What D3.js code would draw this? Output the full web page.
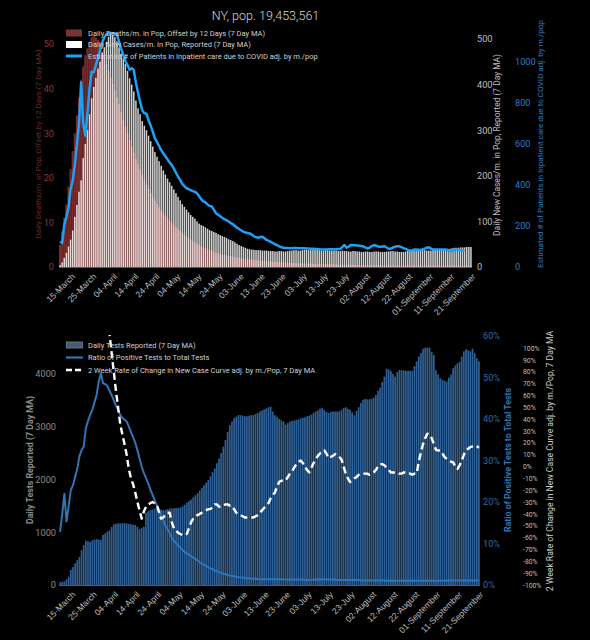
<!DOCTYPE html>
<html><head><meta charset="utf-8">
<script src="https://cdn.jsdelivr.net/npm/d3@7"></script>
<style>
html,body{margin:0;padding:0;background:#000;}
svg{display:block;font-family:Roboto,"Noto Sans",sans-serif;}
</style>
</head><body>
<svg id="chart" width="590" height="640"></svg>
<script>
// ---------------- DATA ----------------
const chartTitle = "NY, pop. 19,453,561";
const firstDay = new Date(2020, 2, 10);
const lastDayExclusive = new Date(2020, 8, 22);

const xTickLabels = ["15-March","25-March","04-April","14-April","24-April","04-May","14-May","24-May","03-June","13-June","23-June","03-July","13-July","23-July","02-August","12-August","22-August","01-September","11-September","21-September"];

// Top chart series
const deathsPerM = [
5,8,11,14,18,22,26,30,34,38,
42,45,47.5,49,50.5,51.5,52,51.5,51,50,
48.5,47,45.5,44,42.5,41,39.5,38,36.5,34.8,
33,31.5,30,28.5,27,25.5,24.2,23,21.8,20.6,
19.5,18.5,17.5,16.6,15.7,14.9,14.1,13.4,12.7,12,
11.4,10.8,10.3,9.8,9.3,8.9,8.5,8.1,7.7,7.3,
6.9,6.5,6.1,5.8,5.5,5.2,4.9,4.6,4.4,4.2,
4,3.8,3.6,3.4,3.2,3,2.9,2.8,2.7,2.6,
2.5,2.4,2.3,2.2,2.1,2,1.9,1.85,1.8,1.75,
1.7,1.65,1.6,1.55,1.5,1.45,1.4,1.35,1.3,1.25,
1.2,1.2,1.15,1.1,1.1,1.05,1,1,0.95,0.9,
0.9,0.85,0.85,0.8,0.8,0.8,0.75,0.75,0.7,0.7,
0.7,0.7,0.65,0.65,0.65,0.6,0.6,0.6,0.6,0.55,
0.55,0.55,0.5,0.5,0.5,0.5,0.5,0.45,0.45,0.45,
0.45,0.45,0.4,0.4,0.4,0.4,0.4,0.4,0.35,0.35,
0.35,0.35,0.35,0.35,0.35,0.3,0.3,0.3,0.3,0.3,
0.3,0.3,0.3,0.3,0.3,0.3,0.3,0.3,0.3,0.3,
0.3,0.3,0.3,0.3,0.3,0.3,0.3,0.3,0.3,0.3,
0.3,0.3,0.3,0.3,0.3,0.3,0.3,0.3,0.3,0.3,
0.3,0.3,0.3,0.3,0.3,0.3];

const casesPerM = [
4,10,20,31,45,60,80,110,136,165,
190,239,270,300,335,370,395,415,435,450,
470,482,494,505,510,509,504,495,482,468,
458,445,430,414,400,385,365,348,335,320,
310,300,288,276,264,252,242,232,222,212,
203,194,186,178,170,162,154,146,138,132,
126,120,114,110,106,100,95,92,90,87,
84,81,79,77,75,72,70,68,66,64,
61,59,57,54,51,48,46,44,42,40,
39,38,38,37,37,37,36,36,36,35,
35,35,34,34,35,35,34,34,35,36,
36,37,37,36,36,37,38,38,37,37,
37,38,38,37,36,36,37,37,36,36,
36,36,35,35,36,35,35,34,34,35,
35,34,34,33,33,34,34,33,33,34,
34,34,33,33,33,34,34,35,35,34,
34,33,33,33,34,35,36,37,37,36,
36,37,37,37,36,36,36,37,38,38,
38,39,39,40,40,40,41,42,42,42,
43,43,43,44,44,44];

const inpatientPerM = [
123,117,205,245,290,380,420,500,600,700,
900,700,640,750,870,953,950,985,1020,1060,
1095,1120,1135,1140,1142,1140,1138,1132,1100,1065,
1035,1005,985,962,970,960,900,850,806,765,
750,748,715,690,660,628,610,590,570,555,
540,525,510,498,480,460,440,425,405,395,
384,380,375,370,367,360,345,330,320,315,
305,298,295,280,262,255,248,240,233,228,
222,215,208,200,192,185,178,172,168,166,
164,158,150,145,143,146,148,140,132,127,
122,117,111,107,101,96,94,93,93,92,
92,93,93,92,91,92,91,90,90,89,
89,88,88,87,86,85,85,86,86,86,
86,87,88,88,98,107,94,100,107,106,
106,105,104,102,100,95,90,95,102,107,
104,100,99,100,101,95,88,90,95,99,
101,101,97,92,88,83,80,82,85,85,
84,83,86,90,94,96,90,86,85,85,
85,85,86,85,82,79,77,83,88,85,
82,81,80,null,null,null];

// Bottom chart series
const testsPerM = [
50,60,70,110,160,285,340,410,470,530,
660,760,840,830,815,850,860,870,860,855,
950,980,1010,1040,1100,1150,1160,1170,1170,1170,
1175,1165,1160,1150,1145,1140,1100,1060,1080,1100,
1370,1400,1420,1430,1450,1460,1450,1430,1420,1420,
1440,1450,1450,1455,1460,1460,1470,1490,1520,1560,
1590,1620,1660,1700,1740,1790,1840,1890,1940,1990,
2060,2140,2210,2310,2400,2500,2620,2750,2900,3030,
3100,3160,3190,3220,3220,3210,3200,3200,3210,3220,
3220,3240,3260,3290,3310,3330,3350,3370,3380,3290,
3220,3190,3150,3120,3100,3040,3070,3100,3110,3120,
3130,3140,3160,3170,3180,3200,3210,3230,3260,3290,
3310,3340,3360,3320,3280,3260,3280,3290,3290,3290,
3290,3320,3360,3370,3340,3320,3270,3220,3300,3370,
3450,3510,3530,3520,3520,3530,3550,3600,3680,3740,
3850,3950,4100,4090,4060,4000,3950,4040,4080,4070,
4070,4060,4060,4060,4060,4150,4240,4330,4400,4480,
4500,4500,4500,4420,4360,4070,3990,3920,3890,3870,
3860,3930,3990,4110,4160,4200,4230,4330,4430,4470,
4450,4430,4480,4400,4300,4240];

const positiveRatioPct = [
12.8,17,22,15.3,19,22.9,24,26,28,31,
32.5,33.3,37.8,39.5,41,42.2,44,45.8,49,51,
48.6,48.4,48,46.8,45.8,44.5,43.2,42.2,41,40.3,
39.8,39.4,38.2,36.9,35.6,34.3,32.5,30.5,28.5,27,
25.8,24.5,23.1,21.8,20.5,19.3,18,16.8,15.6,14.4,
13.4,12.5,11.4,10.6,10.1,9.5,9,8.4,8,7.6,
7.3,6.9,6.6,6.3,5.9,5.5,5.1,4.9,4.6,4.3,
4,3.8,3.5,3.3,3.1,2.9,2.7,2.6,2.4,2.3,
2.2,2.1,2,1.9,1.8,1.8,1.7,1.6,1.6,1.5,
1.5,1.5,1.4,1.4,1.4,1.4,1.4,1.4,1.4,1.4,
1.4,1.4,1.4,1.4,1.3,1.3,1.3,1.3,1.3,1.3,
1.3,1.3,1.3,1.3,1.2,1.2,1.2,1.2,1.3,1.3,
1.3,1.3,1.4,1.4,1.3,1.3,1.3,1.3,1.3,1.2,
1.2,1.2,1.2,1.2,1.2,1.2,1.2,1.2,1.2,1.2,
1.1,1.1,1.1,1.1,1.1,1.1,1.1,1.1,1.1,1.1,
1.1,1.1,1,1,1,1,1,1,1,1,
1,1,1,1,1,1,1,1,1,1,
1,1,1,1,1,1,1,1,1,1,
1.1,1.1,1.1,1.1,1.1,1.1,1.1,1.1,1.1,1.1,
1.1,1.1,1.1,1.1,1.1,1.1];

const rateOfChangePct = [
null,null,null,null,null,null,null,null,null,null,
null,null,null,null,null,null,null,null,null,null,
null,null,
125,112,96,80,64,50,36,27,19,10,
-2,-10,-15,-22,-30,-37,-44,-38,-34,-32,
-31,-30,-31,-32,-38,-44,-43,-41,-39,-39,
-47,-52,-54,-56,-57,-58,-58,-57,-52,-47,
-44,-42,-41,-40,-39,-38,-37,-36,-36,-34,
-32,-32,-34,-34,-33,-32,-32,-33,-33,-36,
-39,-40,-41,-42,-43,-43,-43,-43,-43,-42,
-41,-39,-37,-35,-33,-31,-27,-24,-22,-17,
-13,-12,-12,-12,-9,-6,-4,-1,2,4,
5,3,0,-3,-5,-1,3,6,9,11,
12,13.6,11,7,8,9,10.5,10,8,6,
0,-6,-10,-13,-12,-10,-9,-7,-6,-6,
-6,-6,-7,-6,-5,-3,0,2,2,1,
-1,-3,-5,-5,-5,-5,-6,-6,-5,-5,
-5,-6,-7,-6,-6,4,12,19,24,27.7,
27,24,19,14,13.5,13.6,11,8,6.5,5,
4,3.6,0,-2,1,5,10,13.6,15,16.4,
17,17.8,17,15.8];

const deathTicks = [0,10,20,30,40,50];
const caseTicks = [0,100,200,300,400,500];
const inpatientTicks = [0,200,400,600,800,1000];
const testTicks = [0,1000,2000,3000,4000];
const ratioTicks = [0,10,20,30,40,50,60];
const rateTicks = [-100,-90,-80,-70,-60,-50,-40,-30,-20,-10,0,10,20,30,40,50,60,70,80,90,100];

const topLegend = ["Daily Deaths/m. in Pop, Offset by 12 Days (7 Day MA)","Daily New Cases/m. in Pop, Reported (7 Day MA)","Estimated # of Patients in Inpatient care due to COVID adj. by m./pop"];
const bottomLegend = ["Daily Tests Reported (7 Day MA)","Ratio of Positive Tests to Total Tests","2 Week Rate of Change in New Case Curve adj. by m./Pop, 7 Day MA"];

// ---------------- DRAW ----------------
const dates = d3.timeDay.range(firstDay, lastDayExclusive);
const fmt = d3.timeFormat("%d-%B");
const tickDates = dates.filter(d => xTickLabels.includes(fmt(d)));
const plain = d3.format("d");
const svg = d3.select("#chart");
svg.append("rect").attr("width",590).attr("height",640).attr("fill","#000");

const C = {
  red:"#7a2b2b", redText:"#873838", white:"#ffffff", gray:"#bfbfbf",
  hosp:"#1ea0f5", hospText:"#2c7cc6", bar:"#2e6096", ratio:"#2e75b6", ratioText:"#2f6aa6"
};

function styleAxis(g, color, size, weight){
  g.select(".domain").remove();
  g.selectAll("text").attr("fill", color).style("font-size", size+"px").style("font-family","Roboto,'Noto Sans',sans-serif").style("font-weight", weight||400);
}
function xAxis(g, x, y0){
  const ax = d3.axisBottom(x).tickValues(tickDates).tickFormat(fmt).tickSize(0);
  g.attr("transform", `translate(0,${y0})`).call(ax);
  g.select(".domain").attr("stroke","#595959").attr("d", `M${x.range()[0]},0.5H${x.range()[1]}`);
  g.selectAll("text").attr("fill","#bfbfbf").style("font-size","8.6px")
    .attr("x",0).attr("y",0).attr("dy","0.35em")
    .attr("text-anchor","end")
    .attr("transform","translate(3,8) rotate(-45)");
}
function rotLabel(x, y, text, color, size, weight){
  svg.append("text").attr("transform",`translate(${x},${y}) rotate(-90)`)
    .attr("text-anchor","middle").attr("dy","0.35em")
    .attr("fill",color).style("font-size",size+"px").style("font-weight",weight||400).text(text);
}

// ===== TOP CHART =====
const xT = d3.scaleBand().domain(dates).range([59,472]).padding(0);
const bwT = xT.bandwidth();
const yDeaths = d3.scaleLinear().domain([0,50]).range([267,44]);
const yCases = d3.scaleLinear().domain([0,500]).range([267,39]);
const yInp = d3.scaleLinear().domain([0,1000]).range([267,62]);

svg.append("text").attr("x",265.5).attr("y",20).attr("text-anchor","middle")
  .attr("fill","#d9d9d9").style("font-size","12.5px").style("font-weight",300).text(chartTitle);

svg.append("g").selectAll("rect").data(deathsPerM).join("rect")
  .attr("x",(d,i)=>xT(dates[i])).attr("width",bwT)
  .attr("y",d=>yDeaths(d)).attr("height",d=>yDeaths(0)-yDeaths(d))
  .attr("fill",C.red);
svg.append("g").selectAll("rect").data(casesPerM).join("rect")
  .attr("x",(d,i)=>xT(dates[i])+bwT*0.14).attr("width",bwT*0.72)
  .attr("y",d=>yCases(d)).attr("height",d=>yCases(0)-yCases(d))
  .attr("fill",C.white).attr("fill-opacity",0.82);

const lineT = d3.line().defined(d=>d!=null).x((d,i)=>xT(dates[i])+bwT/2).y(d=>yInp(d));
svg.append("path").datum(inpatientPerM).attr("d",lineT).attr("fill","none")
  .attr("stroke",C.hosp).attr("stroke-width",2.5).attr("stroke-linejoin","round");

xAxis(svg.append("g"), xT, 267);

styleAxis(svg.append("g").attr("transform","translate(57,0)")
  .call(d3.axisLeft(yDeaths).tickValues(deathTicks).tickFormat(plain).tickSize(0).tickPadding(3)), C.redText, 9.2);
styleAxis(svg.append("g").attr("transform","translate(474,0)")
  .call(d3.axisRight(yCases).tickValues(caseTicks).tickFormat(plain).tickSize(0).tickPadding(3)), C.gray, 9.2);
styleAxis(svg.append("g").attr("transform","translate(512,0)")
  .call(d3.axisRight(yInp).tickValues(inpatientTicks).tickFormat(plain).tickSize(0).tickPadding(3)), C.hospText, 9.2);

rotLabel(38,144,"Daily Deaths/m. in Pop, Offset by 12 Days (7 Day MA)","#6e2a2a",8);
rotLabel(497,145,"Daily New Cases/m. in Pop, Reported (7 Day MA)",C.gray,8.4);
rotLabel(540,144,"Estimated # of Patients in Inpatient care due to COVID adj. by m./pop",C.hospText,8.1);

// top legend
const lgT = svg.append("g");
const ly = [33,44.5,56];
lgT.append("rect").attr("x",66).attr("y",ly[0]-3.5).attr("width",16).attr("height",7).attr("fill","#7a3434");
lgT.append("rect").attr("x",66).attr("y",ly[1]-3.5).attr("width",16).attr("height",7).attr("fill","#fff");
lgT.append("line").attr("x1",66).attr("x2",82).attr("y1",ly[2]).attr("y2",ly[2]).attr("stroke",C.hosp).attr("stroke-width",3);
lgT.selectAll("text").data(topLegend).join("text").attr("x",88).attr("y",(d,i)=>ly[i]).attr("dy","0.35em")
  .attr("fill","#d0d0d0").style("font-size","7.5px").text(d=>d);

// ===== BOTTOM CHART =====
const xB = d3.scaleBand().domain(dates).range([59,480]).padding(0);
const bwB = xB.bandwidth();
const yTests = d3.scaleLinear().domain([0,4000]).range([585,374]);
const yRatio = d3.scaleLinear().domain([0,60]).range([585,336]);
const yRate = d3.scaleLinear().domain([-100,100]).range([585,348]);

svg.append("g").selectAll("rect").data(testsPerM).join("rect")
  .attr("x",(d,i)=>xB(dates[i])+bwB*0.1).attr("width",bwB*0.8)
  .attr("y",d=>yTests(d)).attr("height",d=>yTests(0)-yTests(d))
  .attr("fill",C.bar);

const lineR = d3.line().defined(d=>d!=null).x((d,i)=>xB(dates[i])+bwB/2).y(d=>yRatio(d));
svg.append("path").datum(positiveRatioPct).attr("d",lineR).attr("fill","none")
  .attr("stroke",C.ratio).attr("stroke-width",2).attr("stroke-linejoin","round");

svg.append("clipPath").attr("id","clipB").append("rect").attr("x",50).attr("y",335).attr("width",440).attr("height",255);
const lineC = d3.line().defined(d=>d!=null).x((d,i)=>xB(dates[i])+bwB/2).y(d=>yRate(d));
svg.append("path").datum(rateOfChangePct).attr("d",lineC).attr("fill","none")
  .attr("clip-path","url(#clipB)")
  .attr("stroke","#fff").attr("stroke-width",2.4).attr("stroke-dasharray","7,4").attr("stroke-linejoin","round");

xAxis(svg.append("g"), xB, 585);

styleAxis(svg.append("g").attr("transform","translate(59,0)")
  .call(d3.axisLeft(yTests).tickValues(testTicks).tickFormat(plain).tickSize(0).tickPadding(3)), "#8c8c8c", 9.2);
styleAxis(svg.append("g").attr("transform","translate(480,0)")
  .call(d3.axisRight(yRatio).tickValues(ratioTicks).tickFormat(d=>d+"%").tickSize(0).tickPadding(3)), C.ratioText, 9.2);
styleAxis(svg.append("g").attr("transform","translate(520,0)")
  .call(d3.axisRight(yRate).tickValues(rateTicks).tickFormat(d=>d+"%").tickSize(0).tickPadding(3)), "#bfbfbf", 6.8);

rotLabel(30,460,"Daily Tests Reported (7 Day MA)","#8c8c8c",8.8,700);
rotLabel(508,460,"Ratio of Positive Tests to Total Tests",C.ratio,8.8,700);
rotLabel(550,461,"2 Week Rate of Change in New Case Curve adj. by m./Pop, 7 Day MA","#d0d0d0",8.6);

// bottom legend
const lgB = svg.append("g");
const lb = [345,357.5,370];
lgB.append("rect").attr("x",66.5).attr("y",lb[0]-3).attr("width",16).attr("height",6).attr("fill","#475a72").attr("stroke","#6f84a0").attr("stroke-width",0.8);
lgB.append("line").attr("x1",66).attr("x2",83).attr("y1",lb[1]).attr("y2",lb[1]).attr("stroke",C.ratio).attr("stroke-width",2.2);
lgB.append("line").attr("x1",66).attr("x2",83).attr("y1",lb[2]).attr("y2",lb[2]).attr("stroke","#fff").attr("stroke-width",2.4).attr("stroke-dasharray","6,3");
lgB.selectAll("text").data(bottomLegend).join("text").attr("x",88).attr("y",(d,i)=>lb[i]).attr("dy","0.35em")
  .attr("fill","#d0d0d0").style("font-size","7.5px").text(d=>d);
</script>
</body></html>
